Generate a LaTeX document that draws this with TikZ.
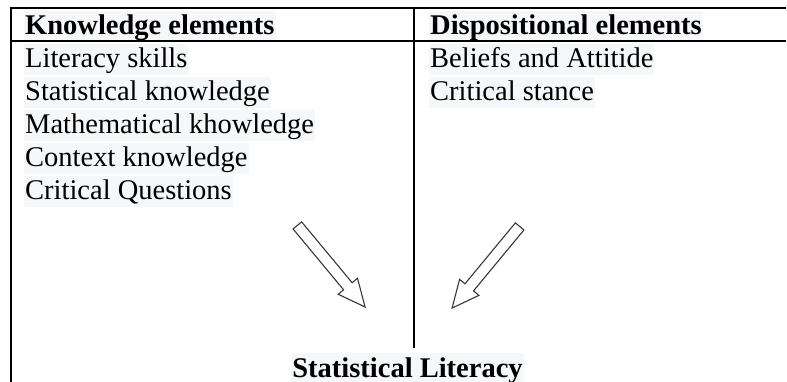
\documentclass[tikz,border=0pt]{standalone}
\usepackage{fontspec}
\setmainfont{Liberation Serif}
\usetikzlibrary{shapes.arrows}
\definecolor{hilite}{RGB}{246,247,250}
\definecolor{arrowgray}{RGB}{55,55,55}
\tikzset{
  cell/.style={anchor=base west,fill=hilite,inner xsep=1pt,inner ysep=0pt,text height=24pt,text depth=7pt,font=\fontsize{28.5}{33}\selectfont},
  headcell/.style={cell,text depth=5pt,font=\fontsize{28.5}{33}\selectfont\bfseries},
  rule/.style={line width=2pt},
  fatarrow/.style={single arrow,draw=arrowgray,line width=1.1pt,inner sep=5pt,minimum height=106pt,single arrow head extend=7pt,single arrow tip angle=50,anchor=tail}
}
\begin{document}
\begin{tikzpicture}[x=1pt,y=-1pt]
\useasboundingbox (0,0) rectangle (787,382);
\node[headcell] (know) at(24,35){Knowledge elements};
\node[headcell] (disp) at(429,35){Dispositional elements};
\node[cell] (lit) at(24,68){Literacy skills};
\node[cell] (stat) at(24,101){Statistical knowledge};
\node[cell] (math) at(24,134){Mathematical khowledge};
\node[cell] (ctx) at(24,167){Context knowledge};
\node[cell] (crq) at(24,200){Critical Questions};
\node[cell] (bel) at(429,68){Beliefs and Attitide};
\node[cell] (cst) at(429,101){Critical stance};
\node[fatarrow,rotate=-50.3] (larrow) at(297,225){};
\node[fatarrow,rotate=-129.6] (rarrow) at(520,226){};
\node[headcell,anchor=base] (sl) at(407.5,377){Statistical Literacy};
\draw[rule] (9.5,8) -- (786,8);
\draw[rule] (9.5,41.5) -- (786,41.5);
\draw[rule] (10.5,7) -- (10.5,382);
\draw[rule] (414,7) -- (414,348);
\end{tikzpicture}
\end{document}
